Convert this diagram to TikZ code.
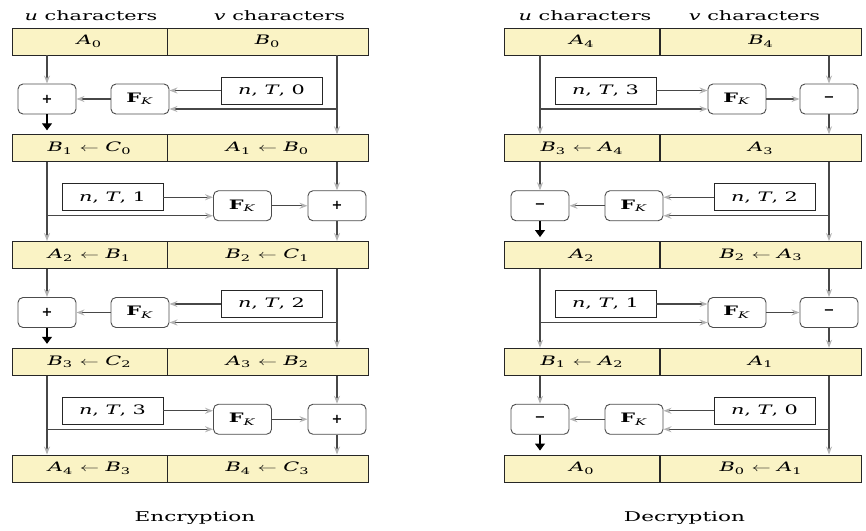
\documentclass[tikz,border=0pt]{standalone}
\usepackage{fontspec}
\setmainfont{DejaVu Serif}
\usepackage{graphicx}
\usetikzlibrary{arrows.meta}

\definecolor{cellfill}{HTML}{FAF3C5}
\definecolor{linegray}{HTML}{474747}

% wide lettering
\newcommand{\wtxt}[1]{\scalebox{1.6}[1]{#1}}
% block name with index
\newcommand{\blk}[2]{\textit{#1}\textsubscript{#2}}
\newcommand{\prf}{\textbf{F}\textsubscript{\textit{K}}}

\begin{document}
\begin{tikzpicture}[
        x=1pt, y=-1pt,
        cell/.style={
            rectangle,
            draw=black!85,
            line width=0.9pt,
            fill=cellfill,
            minimum height=27pt,
            inner sep=0pt,
            font=\fontsize{13}{15}\selectfont
        },
        ucell/.style={cell, minimum width=155pt},
        vcell/.style={cell, minimum width=201pt},
        opbox/.style={
            rectangle,
            draw=black!70,
            line width=0.9pt,
            rounded corners=5pt,
            minimum width=58pt,
            minimum height=30pt,
            inner sep=0pt,
            font=\fontsize{13}{15}\selectfont
        },
        keybox/.style={
            rectangle,
            draw=black!85,
            line width=0.9pt,
            minimum width=101pt,
            minimum height=27pt,
            inner sep=0pt,
            font=\fontsize{13}{15}\selectfont
        },
        head/.style={anchor=base, font=\fontsize{13}{15}\selectfont},
        caption/.style={anchor=base, font=\fontsize{13.5}{15}\selectfont},
        flow/.style={
            draw=linegray,
            line width=1.1pt,
            -{Stealth[length=8pt, width=6pt, color=gray!60]}
        },
        outflow/.style={
            draw=black,
            line width=1.1pt,
            shorten >=4pt,
            -{Triangle[length=7pt, width=10pt]}
        }
    ]
    \useasboundingbox (0,0) rectangle (866,530);

    % Column lines
    \coordinate (eL) at (47,0);
    \coordinate (eR) at (337,0);
    \coordinate (dL) at (540,0);
    \coordinate (dR) at (829,0);

    % Headers and captions
    \node[head] (ehu) at (91,20.5) {\wtxt{\textit{u} characters}};
    \node[head] (ehv) at (279.5,20.5) {\wtxt{\textit{v} characters}};
    \node[head] (dhu) at (585,20.5) {\wtxt{\textit{u} characters}};
    \node[head] (dhv) at (754.5,20.5) {\wtxt{\textit{v} characters}};
    \node[caption] (enc) at (195,521) {\wtxt{Encryption}};
    \node[caption] (dec) at (684.5,521) {\wtxt{Decryption}};

    % Encryption rows
    \node[ucell] (eu0) at (89.5,41.5) {\wtxt{\blk{A}{0}}};
    \node[vcell] (ev0) at (267.5,41.5) {\wtxt{\blk{B}{0}}};
    \node[ucell] (eu1) at (89.5,148.25) {\wtxt{\blk{B}{1} $\leftarrow$ \blk{C}{0}}};
    \node[vcell] (ev1) at (267.5,148.25) {\wtxt{\blk{A}{1} $\leftarrow$ \blk{B}{0}}};
    \node[ucell] (eu2) at (89.5,255) {\wtxt{\blk{A}{2} $\leftarrow$ \blk{B}{1}}};
    \node[vcell] (ev2) at (267.5,255) {\wtxt{\blk{B}{2} $\leftarrow$ \blk{C}{1}}};
    \node[ucell] (eu3) at (89.5,361.75) {\wtxt{\blk{B}{3} $\leftarrow$ \blk{C}{2}}};
    \node[vcell] (ev3) at (267.5,361.75) {\wtxt{\blk{A}{3} $\leftarrow$ \blk{B}{2}}};
    \node[ucell] (eu4) at (89.5,468.5) {\wtxt{\blk{A}{4} $\leftarrow$ \blk{B}{3}}};
    \node[vcell] (ev4) at (267.5,468.5) {\wtxt{\blk{B}{4} $\leftarrow$ \blk{C}{3}}};

    % Encryption rounds
    \node[opbox] (eop0) at (47,99) {\textbf{+}};
    \node[opbox] (ef0) at (140,99) {\wtxt{\prf}};
    \node[keybox] (ek0) at (271.5,90.5) {\wtxt{\textit{n}, \textit{T}, 0}};

    \node[keybox] (ek1) at (112.5,197.25) {\wtxt{\textit{n}, \textit{T}, 1}};
    \node[opbox] (ef1) at (242.5,205.75) {\wtxt{\prf}};
    \node[opbox] (eop1) at (337,205.75) {\textbf{+}};

    \node[opbox] (eop2) at (47,312.5) {\textbf{+}};
    \node[opbox] (ef2) at (140,312.5) {\wtxt{\prf}};
    \node[keybox] (ek2) at (271.5,304) {\wtxt{\textit{n}, \textit{T}, 2}};

    \node[keybox] (ek3) at (112.5,410.75) {\wtxt{\textit{n}, \textit{T}, 3}};
    \node[opbox] (ef3) at (242.5,419.25) {\wtxt{\prf}};
    \node[opbox] (eop3) at (337,419.25) {\textbf{+}};

    % Decryption rows
    \node[ucell] (du0) at (582,41.5) {\wtxt{\blk{A}{4}}};
    \node[vcell] (dv0) at (761,41.5) {\wtxt{\blk{B}{4}}};
    \node[ucell] (du1) at (582,148.25) {\wtxt{\blk{B}{3} $\leftarrow$ \blk{A}{4}}};
    \node[vcell] (dv1) at (761,148.25) {\wtxt{\blk{A}{3}}};
    \node[ucell] (du2) at (582,255) {\wtxt{\blk{A}{2}}};
    \node[vcell] (dv2) at (761,255) {\wtxt{\blk{B}{2} $\leftarrow$ \blk{A}{3}}};
    \node[ucell] (du3) at (582,361.75) {\wtxt{\blk{B}{1} $\leftarrow$ \blk{A}{2}}};
    \node[vcell] (dv3) at (761,361.75) {\wtxt{\blk{A}{1}}};
    \node[ucell] (du4) at (582,468.5) {\wtxt{\blk{A}{0}}};
    \node[vcell] (dv4) at (761,468.5) {\wtxt{\blk{B}{0} $\leftarrow$ \blk{A}{1}}};

    % Decryption rounds
    \node[keybox] (dk0) at (605.5,90.5) {\wtxt{\textit{n}, \textit{T}, 3}};
    \node[opbox] (df0) at (737,99) {\wtxt{\prf}};
    \node[opbox] (dop0) at (829,99) {\textbf{−}};

    \node[opbox] (dop1) at (540,205.75) {\textbf{−}};
    \node[opbox] (df1) at (634,205.75) {\wtxt{\prf}};
    \node[keybox] (dk1) at (764.5,197.25) {\wtxt{\textit{n}, \textit{T}, 2}};

    \node[keybox] (dk2) at (605.5,304) {\wtxt{\textit{n}, \textit{T}, 1}};
    \node[opbox] (df2) at (737,312.5) {\wtxt{\prf}};
    \node[opbox] (dop2) at (829,312.5) {\textbf{−}};

    \node[opbox] (dop3) at (540,419.25) {\textbf{−}};
    \node[opbox] (df3) at (634,419.25) {\wtxt{\prf}};
    \node[keybox] (dk3) at (764.5,410.75) {\wtxt{\textit{n}, \textit{T}, 0}};

    % Encryption arrows
    \draw[flow] (eL |- eu0.south) -- (eop0.north);
    \draw[outflow] (eop0.south) -- (eL |- eu1.north);
    \draw[flow] (ef0.west) -- (eop0.east);
    \draw[flow] (ek0.west) -- (ek0.west -| ef0.east);
    \draw[flow] (eR |- ev0.south) -- (eR |- ev1.north);
    \draw[flow] ([yshift=-10pt]ef0.east -| eR) -- ([yshift=-10pt]ef0.east);

    \draw[flow] (eL |- eu1.south) -- (eL |- eu2.north);
    \draw[flow] (ek1.east) -- (ek1.east -| ef1.west);
    \draw[flow] ([yshift=-10pt]ef1.west -| eL) -- ([yshift=-10pt]ef1.west);
    \draw[flow] (ef1.east) -- (eop1.west);
    \draw[flow] (eR |- ev1.south) -- (eop1.north);
    \draw[flow] (eop1.south) -- (eR |- ev2.north);

    \draw[flow] (eL |- eu2.south) -- (eop2.north);
    \draw[outflow] (eop2.south) -- (eL |- eu3.north);
    \draw[flow] (ef2.west) -- (eop2.east);
    \draw[flow] (ek2.west) -- (ek2.west -| ef2.east);
    \draw[flow] (eR |- ev2.south) -- (eR |- ev3.north);
    \draw[flow] ([yshift=-10pt]ef2.east -| eR) -- ([yshift=-10pt]ef2.east);

    \draw[flow] (eL |- eu3.south) -- (eL |- eu4.north);
    \draw[flow] (ek3.east) -- (ek3.east -| ef3.west);
    \draw[flow] ([yshift=-10pt]ef3.west -| eL) -- ([yshift=-10pt]ef3.west);
    \draw[flow] (ef3.east) -- (eop3.west);
    \draw[flow] (eR |- ev3.south) -- (eop3.north);
    \draw[flow] (eop3.south) -- (eR |- ev4.north);

    % Decryption arrows
    \draw[flow] (dL |- du0.south) -- (dL |- du1.north);
    \draw[flow] (dk0.east) -- (dk0.east -| df0.west);
    \draw[flow] ([yshift=-10pt]df0.west -| dL) -- ([yshift=-10pt]df0.west);
    \draw[flow] (df0.east) -- (dop0.west);
    \draw[flow] (dR |- dv0.south) -- (dop0.north);
    \draw[flow] (dop0.south) -- (dR |- dv1.north);

    \draw[flow] (dL |- du1.south) -- (dop1.north);
    \draw[outflow] (dop1.south) -- (dL |- du2.north);
    \draw[flow] (df1.west) -- (dop1.east);
    \draw[flow] (dk1.west) -- (dk1.west -| df1.east);
    \draw[flow] (dR |- dv1.south) -- (dR |- dv2.north);
    \draw[flow] ([yshift=-10pt]df1.east -| dR) -- ([yshift=-10pt]df1.east);

    \draw[flow] (dL |- du2.south) -- (dL |- du3.north);
    \draw[flow] (dk2.east) -- (dk2.east -| df2.west);
    \draw[flow] ([yshift=-10pt]df2.west -| dL) -- ([yshift=-10pt]df2.west);
    \draw[flow] (df2.east) -- (dop2.west);
    \draw[flow] (dR |- dv2.south) -- (dop2.north);
    \draw[flow] (dop2.south) -- (dR |- dv3.north);

    \draw[flow] (dL |- du3.south) -- (dop3.north);
    \draw[outflow] (dop3.south) -- (dL |- du4.north);
    \draw[flow] (df3.west) -- (dop3.east);
    \draw[flow] (dk3.west) -- (dk3.west -| df3.east);
    \draw[flow] (dR |- dv3.south) -- (dR |- dv4.north);
    \draw[flow] ([yshift=-10pt]df3.east -| dR) -- ([yshift=-10pt]df3.east);

\end{tikzpicture}
\end{document}
